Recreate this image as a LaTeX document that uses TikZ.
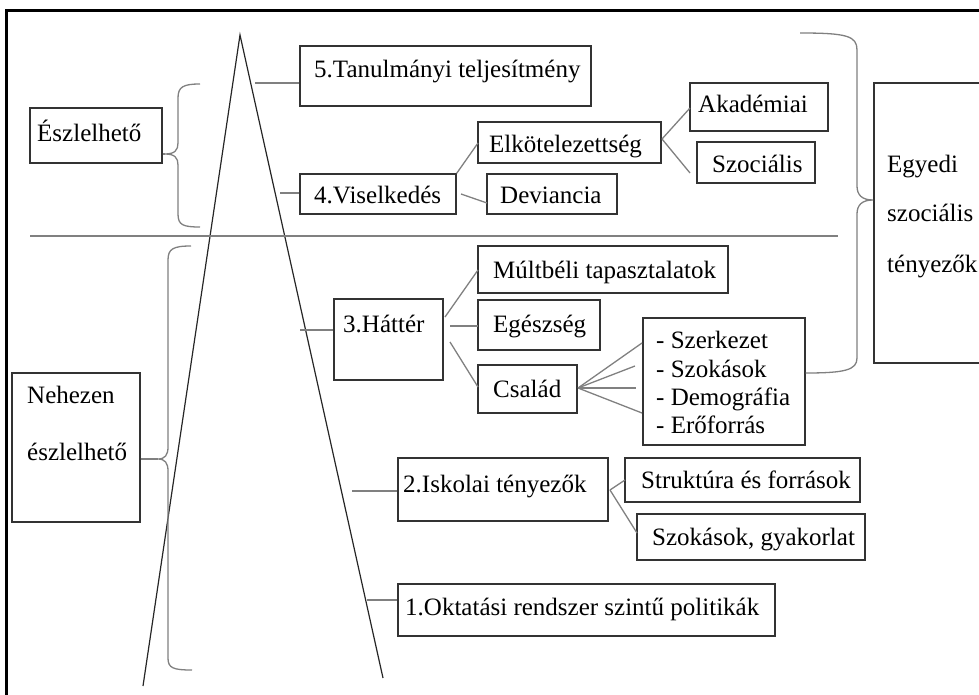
\documentclass[tikz,border=0pt]{standalone}
\usepackage{fontspec}
\setmainfont{Liberation Serif}
\usetikzlibrary{fit}
\begin{document}
\begin{tikzpicture}[x=1pt,y=-1pt,
  frameline/.style={line width=3pt,black},
  boxline/.style={draw=black!80,line width=1.3pt,inner sep=0pt},
  link/.style={draw=black!50,line width=1.3pt},
  brace/.style={draw=black!50,line width=1.3pt},
  cone/.style={draw=black!85,line width=1.2pt},
  txt/.style={anchor=base west,inner sep=0pt,font=\fontsize{25}{29}\selectfont,text=black}]
\useasboundingbox (0,0) rectangle (979,695);

% outer frame (left and top edges)
\draw[frameline] (6,695) -- (6,11) -- (979,11);

% the cone
\coordinate (apex) at (240,35);
\coordinate (baseL) at (143,686);
\coordinate (baseR) at (383,678);
\draw[cone] (baseL) -- (apex) -- (baseR);

% divider between the two levels
\coordinate (divL) at (30,236);
\coordinate (divR) at (838,236);
\draw[link] (divL) -- (divR);

% ---------- boxes ----------
\node[boxline,fit={(300,46) (591,106)}] (b5) {};
\node[txt] (t5) at (314,78) {5.Tanulmányi teljesítmény};

\node[boxline,fit={(30,108) (162,163)}] (besz) {};
\node[txt] (tesz) at (37,142) {Észlelhető};

\node[boxline,fit={(300,174) (456,214)}] (b4) {};
\node[txt] (t4) at (314,204) {4.Viselkedés};

\node[boxline,fit={(478,122) (661,163)}] (belk) {};
\node[txt] (telk) at (489,153) {Elkötelezettség};

\node[boxline,fit={(487,174) (617,214)}] (bdev) {};
\node[txt] (tdev) at (500,204) {Deviancia};

\node[boxline,fit={(690,83) (828,131)}] (bakad) {};
\node[txt] (takad) at (698,113) {Akadémiai};

\node[boxline,fit={(697,142) (815,183)}] (bszoc) {};
\node[txt] (tszoc) at (712,173) {Szociális};

\node[boxline,fit={(874,83) (990,363)}] (begy) {};
\node[txt] (tegy1) at (887,172) {Egyedi};
\node[txt] (tegy2) at (887,222) {szociális};
\node[txt] (tegy3) at (887,272) {tényezők};

\node[boxline,fit={(12,373) (140,522)}] (bneh) {};
\node[txt] (tneh1) at (27,403) {Nehezen};
\node[txt] (tneh2) at (27,460) {észlelhető};

\node[boxline,fit={(334,299) (443,380)}] (b3) {};
\node[txt] (t3) at (343,332) {3.Háttér};

\node[boxline,fit={(478,246) (728,293)}] (bmult) {};
\node[txt] (tmult) at (493,278) {Múltbéli tapasztalatok};

\node[boxline,fit={(478,300) (600,350)}] (begesz) {};
\node[txt] (tegesz) at (493,332) {Egészség};

\node[boxline,fit={(478,365) (577,413)}] (bcsal) {};
\node[txt] (tcsal) at (493,397) {Család};

\node[boxline,fit={(643,318) (805,445)}] (blist) {};
\node[txt] (tl1) at (656,348) {- Szerkezet};
\node[txt] (tl2) at (656,377) {- Szokások};
\node[txt] (tl3) at (656,405) {- Demográfia};
\node[txt] (tl4) at (656,433) {- Erőforrás};

\node[boxline,fit={(398,458) (608,521)}] (b2) {};
\node[txt] (t2) at (403,492) {2.Iskolai tényezők};

\node[boxline,fit={(625,458) (860,502)}] (bstr) {};
\node[txt] (tstr) at (641,488) {Struktúra és források};

\node[boxline,fit={(637,514) (865,560)}] (bgyak) {};
\node[txt] (tgyak) at (652,545) {Szokások, gyakorlat};

\node[boxline,fit={(398,584) (775,636)}] (b1) {};
\node[txt] (t1) at (405,615) {1.Oktatási rendszer szintű politikák};

% ---------- connectors from the cone ----------
\coordinate (c5) at (255,83);
\coordinate (c4) at (280,193);
\coordinate (c3) at (300,330);
\coordinate (c2) at (352,491);
\coordinate (c1) at (367,600);
\draw[link] (c5) -- (c5 -| b5.west);
\draw[link] (c4) -- (c4 -| b4.west);
\draw[link] (c3) -- (c3 -| b3.west);
\draw[link] (c2) -- (c2 -| b2.west);
\draw[link] (c1) -- (c1 -| b1.west);

% ---------- branch connectors ----------
\draw[link] (b4.north east) -- (478,143);
\draw[link] (461,194) -- (487,203);
\draw[link] (662,139) -- (690,108);
\draw[link] (662,139) -- (690,173);
\draw[link] (445,317) -- (478,270);
\draw[link] (450,326) -- (478,326);
\draw[link] (450,342) -- (478,387);
\coordinate (fan) at (578,388);
\draw[link] (fan) -- (642,343);
\draw[link] (fan) -- (635,366);
\draw[link] (fan) -- (636,388);
\draw[link] (fan) -- (642,413);
\coordinate (fan2) at (610,490);
\draw[link] (fan2) -- (625,480);
\draw[link] (fan2) -- (637,533);

% ---------- braces ----------
\coordinate (tipE) at (165,154);
\draw[brace] (200,84) .. controls (183,84) and (178,87) .. (178,98) -- (178,143)
  .. controls (178,150) and (175,154) .. (tipE)
  .. controls (175,154) and (178,158) .. (178,165) -- (178,214)
  .. controls (178,225) and (183,227) .. (200,227);
\draw[brace] (besz.east |- tipE) -- (tipE);

\coordinate (tipN) at (158,459);
\draw[brace] (191,246) .. controls (173,246) and (168,249) .. (168,260) -- (168,447)
  .. controls (168,455) and (165,459) .. (tipN)
  .. controls (165,459) and (168,463) .. (168,471) -- (168,658)
  .. controls (168,668) and (173,670) .. (192,670);
\draw[brace] (bneh.east |- tipN) -- (tipN);

\coordinate (tipR) at (873,200);
\draw[brace] (800,33) .. controls (847,33) and (857,36) .. (857,50) -- (857,186)
  .. controls (857,195) and (862,200) .. (tipR)
  .. controls (862,200) and (857,205) .. (857,214) -- (857,358)
  .. controls (857,370) and (845,373) .. (blist.east |- 0,373);
\end{tikzpicture}
\end{document}
